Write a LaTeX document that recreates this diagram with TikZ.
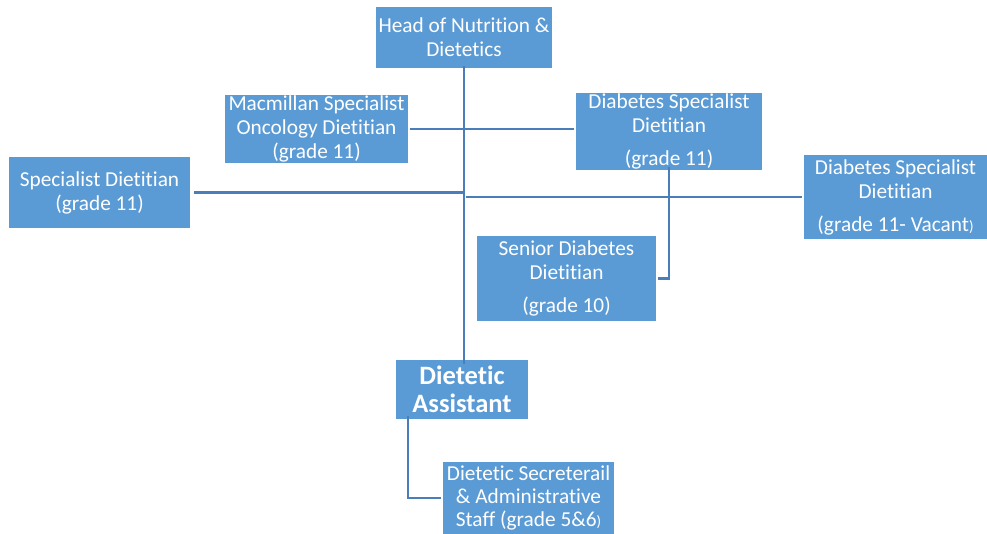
\documentclass[tikz,border=0pt]{standalone}
\usepackage{fontspec}
\setmainfont[Ligatures=NoCommon]{Carlito}
\definecolor{boxblue}{HTML}{5B9BD5}
\definecolor{linec}{HTML}{4A7EBB}
\begin{document}
\begin{tikzpicture}[x=1pt,y=-1pt,
  box/.style={fill=boxblue, text=white, align=center, inner sep=0pt, font=\fontsize{21.3}{24}\selectfont},
  conn/.style={draw=linec, line width=2.2pt}]
\useasboundingbox (0,0) rectangle (987,534);
\node[box, minimum width=176pt, minimum height=61pt] (head) at (464,37.5) {Head of Nutrition \&\\Dietetics};
\node[box, minimum width=183pt, minimum height=68pt] (mac) at (316.5,129) {Macmillan Specialist\\Oncology Dietitian\\(grade 11)};
\node[box, minimum width=186pt, minimum height=77pt] (d1) at (669,131.5) {Diabetes Specialist\\Dietitian\\[9pt](grade 11)};
\node[box, minimum width=181pt, minimum height=71pt] (spec) at (99.5,192.5) {Specialist Dietitian\\(grade 11)};
\node[box, minimum width=183pt, minimum height=84pt] (d2) at (895.5,197) {Diabetes Specialist\\Dietitian\\[9pt](grade 11- Vacant{\fontsize{15}{15}\selectfont)}};
\node[box, minimum width=179pt, minimum height=85pt] (sen) at (566.5,278.5) {Senior Diabetes\\Dietitian\\[9pt](grade 10)};
\node[box, minimum width=132pt, minimum height=59pt, font=\fontsize{26.5}{28}\selectfont\bfseries] (asst) at (462,389.5) {Dietetic\\Assistant};
\node[box, minimum width=171pt, minimum height=72pt, font=\fontsize{21.3}{23}\selectfont] (sec) at (528.5,498) {Dietetic Secreterail\\\& Administrative\\Staff (grade 5\&6{\fontsize{15}{15}\selectfont)}};

\draw[conn] ([yshift=2pt]head.south) -- ([yshift=-4pt]head.south |- asst.north);
\draw[conn] ([xshift=4pt]spec.east) -- (spec.east -| head.south);
\draw[conn] ([xshift=2pt]d2.west -| head.south) -- ([xshift=-2pt]d2.west);
\draw[conn] ([xshift=2pt]mac.east) -- ([xshift=-2pt]d1.west |- mac.east);
\draw[conn] ([yshift=3pt]d1.south) |- ([xshift=2pt]sen.east);
\draw[conn] ([xshift=-54pt,yshift=3pt]asst.south) |- ([xshift=-2pt]sec.west);
\end{tikzpicture}
\end{document}
